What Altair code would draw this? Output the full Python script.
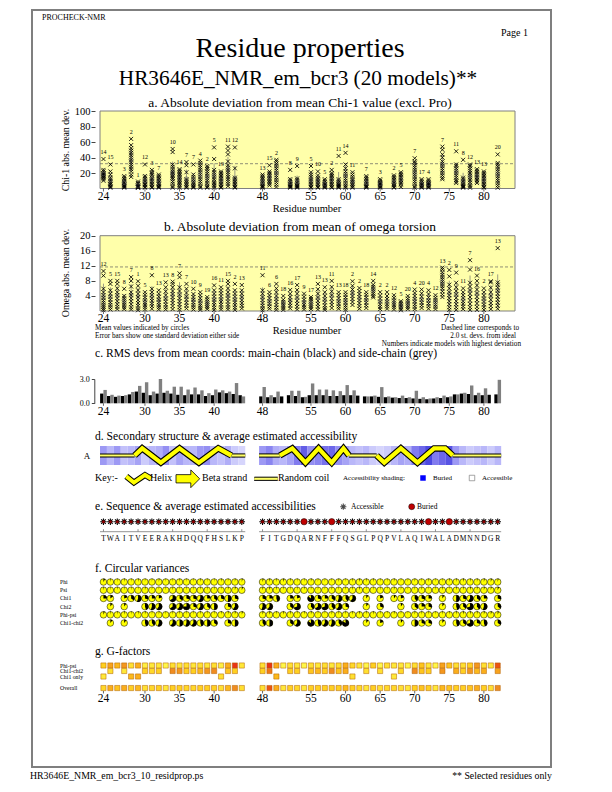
import altair as alt
import pandas as pd

SERIF = "Liberation Serif, Times New Roman, serif"
W, H = 596, 776


def X(x):
    return x - 8


def Y(y):
    return y - 8


# ------------------------------------------------------------------ data
RES_SEG1 = list(range(24, 45))
RES_SEG2 = list(range(48, 83))
RESIDUES = RES_SEG1 + RES_SEG2
SEQUENCE = "TWAITVEERAKHDQQFHSLKP" + "FITGDQARNFFFQSGLPQPVLAQIWALADMNNDGR"
SECONDARY = "CCCCC" + "H" * 14 + "CC" + "CCC" + "H" * 10 + "CCCC" + "H" * 11 + "CCCCCCC"
TICK_RES = [24, 30, 35, 40, 48, 55, 60, 65, 70, 75, 80]
SEQ_TICK_RES = [24, 29, 34, 39, 44, 48, 53, 58, 63, 68, 73, 78]

# a. |chi-1 - mean| for the models (degrees), and model with highest deviation
CHI1_DEV = {
    24: [38, 24, 22, 20, 19, 18, 17, 16, 15, 14, 12, 10],
    25: [31, 22, 18, 14, 12, 10, 8, 6, 5, 3, 2, 1],
    27: [16, 14, 12, 10, 8, 7, 5, 4, 3, 2, 1],
    28: [64, 56, 52, 49, 46, 43, 40, 37, 34, 31, 28, 25, 22, 18, 15],
    29: [9, 7, 6, 4, 3, 2, 2, 1, 1],
    30: [31, 16, 14, 12, 10, 8, 6, 5, 4, 2, 1],
    31: [24, 21, 19, 17, 14, 12, 10, 8, 6, 4, 2, 1],
    32: [18, 16, 14, 12, 10, 8, 6, 5, 3, 2, 1],
    34: [51, 47, 31, 28, 25, 22, 20, 18, 16, 14, 12, 9, 6, 3, 1],
    35: [25, 23, 21, 19, 17, 15, 13, 11, 9, 7, 5, 3, 1],
    36: [34, 30, 21, 12, 10, 8, 6, 4, 2, 1],
    37: [31, 18, 15, 12, 9, 7, 5, 3, 2, 1],
    38: [36, 33, 30, 27, 24, 21, 18, 15, 12, 9, 6, 3, 1],
    39: [29, 27, 25, 22, 19, 16, 13, 10, 7, 4, 2, 1],
    40: [53, 38, 24, 21, 18, 15, 12, 9, 7, 5, 3, 1],
    41: [22, 20, 18, 16, 14, 12, 10, 8, 6, 4, 2, 1],
    42: [54, 49, 44, 35, 30, 27, 24, 21, 18, 15, 12, 9, 6, 3],
    43: [53, 26, 14, 12, 10, 8, 6, 4, 2, 1],
    48: [18, 16, 14, 12, 10, 8, 6, 4, 3, 2, 1],
    49: [30, 22, 20, 18, 16, 14, 12, 10, 8, 6, 4],
    50: [37, 35, 32, 29, 26, 23, 20, 17, 14, 11, 8, 5, 2],
    52: [24, 12, 10, 8, 6, 5, 4, 3, 2, 1],
    53: [29, 13, 11, 9, 7, 5, 4, 3, 2, 1],
    55: [29, 21, 18, 15, 12, 10, 8, 6, 4, 2, 1],
    56: [22, 17, 14, 12, 10, 8, 6, 4, 2, 1],
    57: [12, 10, 8, 6, 5, 4, 3, 2, 1],
    58: [24, 20, 18, 16, 14, 12, 10, 8, 6, 4, 2, 1],
    59: [42, 12, 10, 8, 6, 5, 4, 3, 2, 1],
    60: [46, 31, 26, 22, 19, 16, 13, 10, 7, 4, 2, 1],
    61: [21, 18, 15, 12, 10, 8, 6, 4, 2, 1],
    63: [16, 14, 12, 10, 8, 6, 4, 3, 2, 1],
    65: [12, 10, 8, 7, 6, 5, 4, 3, 2, 1],
    67: [17, 15, 13, 11, 9, 7, 5, 4, 2, 1],
    68: [21, 19, 17, 15, 13, 11, 9, 7, 5, 2],
    70: [39, 35, 33, 30, 27, 24, 21, 18, 15, 12, 9, 6, 3, 1],
    71: [12, 10, 8, 6, 5, 4, 3, 2, 1],
    72: [12, 10, 8, 7, 6, 5, 4, 3, 2, 1],
    74: [54, 50, 44, 40, 35, 32, 29, 26, 23, 20, 17, 14, 12],
    76: [48, 31, 29, 26, 23, 20, 17, 14, 11, 9, 7],
    77: [37, 14, 12, 10, 8, 6, 4, 3, 2, 1],
    78: [31, 29, 26, 23, 20, 17, 14, 11, 8, 5, 3, 1],
    79: [25, 23, 21, 19, 17, 15, 13, 11, 9, 7],
    80: [22, 20, 18, 16, 14, 12, 10, 8, 6, 4, 2, 1],
    82: [44, 33, 31, 28, 25, 22, 19, 16, 13, 10, 7, 4, 1],
}
CHI1_TOP_MODEL = {24: 14, 25: 15, 27: 3, 28: 2, 29: 1, 30: 12, 31: 3, 32: 7, 34: 10, 35: 14,
                  36: 7, 37: 7, 38: 4, 39: 2, 40: 5, 41: 19, 42: 11, 43: 12, 48: 13, 49: 15,
                  50: 2, 52: 8, 53: 9, 55: 5, 56: 10, 57: 5, 58: 2, 59: 11, 60: 14, 61: 11,
                  63: 7, 65: 3, 67: 2, 68: 5, 70: 7, 71: 17, 72: 4, 74: 7, 76: 11, 77: 8,
                  78: 12, 79: 13, 80: 13, 82: 20}
CHI1_LIMIT = 32

# b. |omega - mean| for the models (degrees)
OMEGA_DEV = {
    24: [10.6, 9.4, 5.9, 5, 4.2, 3.5, 2.8, 2.2, 1.6, 1.1, 0.6, 0.2],
    25: [8, 7.2, 5.5, 4.6, 3.8, 3, 2.3, 1.6, 1, 0.4],
    26: [8, 7.2, 6, 5, 4.2, 3.4, 2.6, 1.8, 1.1, 0.5],
    27: [5.9, 4, 3.4, 2.8, 2.2, 1.6, 1, 0.5],
    28: [9, 8, 6.5, 5, 4.2, 3.4, 2.6, 1.8, 1, 0.4],
    29: [7.9, 6.7, 5.5, 4.6, 3.7, 2.9, 2.1, 1.4, 0.7, 0.2],
    30: [5, 4.3, 3.6, 2.9, 2.2, 1.6, 1, 0.4],
    31: [9.5, 5.9, 5, 4.2, 3.4, 2.7, 2, 1.3, 0.6],
    32: [5.5, 4.6, 3.8, 3, 2.3, 1.6, 1, 0.4],
    33: [7.6, 6.3, 5.2, 4.2, 3.3, 2.5, 1.7, 1, 0.4],
    34: [7.8, 7.2, 6.3, 5.3, 4.5, 3.7, 2.9, 2.1, 1.3, 0.5],
    35: [10, 9, 6.3, 5.3, 4.3, 3.4, 2.6, 1.8, 1, 0.3],
    36: [7.2, 5.9, 4.8, 3.8, 3, 2.2, 1.4, 0.7],
    37: [5.9, 4.5, 3.7, 3, 2.3, 1.6, 1, 0.4],
    38: [5, 4.2, 3.4, 2.7, 2, 1.4, 0.8, 0.3],
    39: [3.7, 3.1, 2.5, 2, 1.5, 1, 0.5],
    40: [6.8, 5.5, 4.6, 3.8, 3, 2.3, 1.6, 0.9, 0.3],
    41: [6.3, 5.5, 4.7, 3.9, 3.1, 2.4, 1.7, 1, 0.4],
    42: [8, 7.2, 6, 5, 4.1, 3.3, 2.5, 1.7, 1, 0.4],
    43: [7.2, 5.5, 4.6, 3.8, 3, 2.3, 1.6, 0.9, 0.3],
    44: [6.9, 5.5, 4.6, 3.7, 2.9, 2.1, 1.4, 0.7],
    48: [9.5, 5.5, 4.6, 3.7, 2.9, 2.1, 1.4, 0.7, 0.2],
    49: [5, 4.2, 3.4, 2.6, 1.9, 1.2, 0.6],
    50: [7.2, 6, 5, 4, 3.2, 2.4, 1.6, 0.9, 0.3],
    51: [4, 3, 2.4, 1.8, 1.3, 0.8, 0.3],
    52: [5.6, 4.6, 3.7, 2.9, 2.1, 1.4, 0.7],
    53: [6.9, 5.6, 4.6, 3.6, 2.7, 1.9, 1.1, 0.4],
    54: [4.6, 3.8, 3, 2.3, 1.6, 1, 0.4],
    55: [3.7, 3.2, 2.6, 2, 1.5, 1, 0.5],
    56: [7.2, 5.8, 4.6, 3.6, 2.7, 1.9, 1.1, 0.4],
    57: [6.3, 5, 4, 3.1, 2.3, 1.5, 0.8, 0.3],
    58: [8, 6.4, 5.2, 4.2, 3.3, 2.4, 1.6, 0.8],
    59: [5, 4.2, 3.4, 2.6, 1.9, 1.2, 0.6],
    60: [5, 4.3, 3.6, 2.9, 2.2, 1.5, 0.9, 0.3],
    61: [7.9, 6.7, 5.7, 4.8, 4, 3.2, 2.4, 1.6],
    62: [6.1, 5.3, 4.5, 3.7, 2.9, 2.1, 1.3, 0.6],
    63: [5, 4.3, 3.6, 2.9, 2.2, 1.5, 0.8],
    64: [8, 7, 6.4, 5.8, 5.2, 4.6, 4, 3.6],
    65: [5, 4.1, 3.3, 2.5, 1.8, 1.1, 0.5],
    66: [5, 4, 3.2, 2.5, 1.8, 1.2, 0.6],
    67: [4.2, 3.5, 2.8, 2.2, 1.6, 1, 0.4],
    68: [2.6, 2.2, 1.8, 1.4, 1, 0.6, 0.2],
    69: [4, 3.3, 2.7, 2.1, 1.5, 1, 0.5],
    70: [5.7, 4.8, 4, 3.2, 2.5, 1.8, 1.1, 0.5],
    71: [5.7, 4.7, 3.8, 3, 2.2, 1.5, 0.8],
    72: [5.5, 4.5, 3.6, 2.8, 2, 1.3, 0.6],
    73: [4.2, 3.5, 2.9, 2.3, 1.7, 1.1, 0.5],
    74: [11.5, 11, 10.3, 9.6, 9, 8.4, 7.8, 7.2, 6.6, 6, 5.2, 4.4, 3.7],
    75: [10.9, 9.2, 7, 6, 5, 4.2, 3.4, 2.6, 1.8, 1, 0.3],
    76: [10.2, 7.5, 6.3, 5.3, 4.4, 3.5, 2.6, 1.8, 1, 0.3],
    77: [6, 5, 4.2, 3.4, 2.6, 1.9, 1.2, 0.5],
    78: [13.5, 11, 7.5, 6.5, 5.5, 4.6, 3.7, 2.8, 1.9, 1, 0.3],
    79: [9.4, 8, 6.8, 5.7, 4.7, 3.8, 2.9, 2, 1.1, 0.3],
    80: [6, 5, 4.1, 3.3, 2.5, 1.7, 1, 0.3],
    81: [7.9, 7.6, 6.2, 5, 4, 3, 2.1, 1.3, 0.5],
    82: [16.7, 7.6, 7, 6.2, 5.4, 4.6, 3.8, 3, 2.2, 1.4, 0.6],
}
OMEGA_TOP_MODEL = {24: 12, 25: 5, 26: 15, 27: 8, 28: 7, 29: 1, 30: 5, 31: 8, 32: 13, 33: 13,
                   34: 8, 35: 7, 36: 7, 37: 10, 38: 9, 39: 19, 40: 16, 41: 11, 42: 15, 43: 2,
                   44: 13, 48: 11, 49: 6, 50: 6, 51: 18, 52: 16, 53: 17, 54: 9, 55: 17, 56: 13,
                   57: 13, 58: 11, 59: 13, 60: 18, 61: 2, 62: 2, 63: 18, 64: 14, 65: 2, 66: 2,
                   67: 12, 68: 5, 69: 20, 70: 4, 71: 20, 72: 4, 73: 12, 74: 13, 75: 2, 76: 9,
                   77: 11, 78: 7, 79: 16, 80: 2, 81: 17, 82: 13}
OMEGA_LIMIT = 11.7

# c. RMS deviations (main chain / side chain), one value per residue
RMS_MAIN = [1.2, 0.9, 0.8, 0.9, 1.1, 1.45, 1.3, 1.0, 1.2, 1.3, 1.2, 1.05, 1.0, 1.1, 1.1, 0.9, 1.0, 1.35, 1.25, 1.15, 1.0,
            0.85, 0.75, 0.75, 0.85, 1.0, 0.9, 0.75, 1.0, 1.0, 1.0,
            0.9, 0.9, 1.0, 1.0, 0.95, 0.85, 0.85, 0.8, 0.75, 0.7,
            0.65, 0.65, 0.6, 0.55, 0.5, 0.6, 0.65, 0.75, 1.1, 1.2,
            1.15, 1.0, 1.0, 1.05, 1.1]
RMS_SIDE = [1.65, 1.05, 0.95, 1.0, 1.4, 2.15, 2.6, 1.45, 3.0, 1.55, 2.05, 2.05, 1.7, 1.95, 1.6, 1.25, 1.7, 1.6, 1.45, 2.5, 0.85,
            2.0, 1.0, 1.45, None, 1.55, 1.55, 0.8, 2.45, 1.7, 1.7,
            1.6, 1.5, 2.25, 1.6, None, 0.85, 0.95, 2.0, 0.85, 0.75,
            0.95, 0.75, 1.55, 0.75, 0.6, 0.75, 0.95, 0.85, 1.1, 1.3,
            2.2, 1.3, 1.85, None, 2.9]

# d. average estimated burial (0 = accessible, 1 = buried)
BURIAL = [0.45, 0.3, 0.45, 0.25, 0.3, 0.4, 0.2, 0.3, 0.35, 0.5, 0.25, 0.4, 0.3, 0.3, 0.45, 0.5, 0.3, 0.25, 0.35, 0.2, 0.15,
          0.45, 0.55, 0.35, 0.3, 0.4, 0.6, 0.75, 0.5, 0.55, 0.65,
          0.7, 0.5, 0.4, 0.3, 0.25, 0.3, 0.2, 0.15, 0.2, 0.3,
          0.4, 0.35, 0.6, 0.7, 0.85, 0.6, 0.7, 0.8, 0.45, 0.3,
          0.2, 0.25, 0.3, 0.2, 0.3]
# helix ribbon vertices (residue number, up/down)
HELIX_RES = {"h1": [28.5, 29.6, 32.3, 35.0, 37.8, 40.6, 42.5],
             "h2": [50.5, 52.3, 54.2, 56.1, 58.0, 59.7, 60.5],
             "h3": [64.5, 65.6, 68.0, 70.4, 72.8, 74.4, 75.5]}
HELIX_LEV = {"h1": [0, 0.75, -0.75, 0.75, -0.75, 0.75, 0],
             "h2": [0, 0.75, -0.75, 0.75, -0.75, 0.75, 0],
             "h3": [0, -0.75, 0.75, -0.75, 0.75, 0.75, 0]}

# e. buried residues
BURIED = [54, 58, 72, 75]

# f. circular variances
PHI_CV = [0.08, 0.03, 0.02, 0.03, 0.02, 0.03, 0.02, 0.02, 0.03, 0.02, 0.02, 0.03, 0.02, 0.02, 0.03, 0.02, 0.02, 0.03, 0.02, 0.03, 0.04,
          0.05, 0.04, 0.03, 0.05, 0.03, 0.02, 0.02, 0.03, 0.02, 0.02,
          0.02, 0.03, 0.02, 0.03, 0.04, 0.03, 0.03, 0.02, 0.02, 0.03,
          0.02, 0.02, 0.03, 0.02, 0.03, 0.02, 0.02, 0.03, 0.03, 0.04,
          0.03, 0.03, 0.04, 0.05, 0.04]
PSI_CV = [0.03, 0.02, 0.03, 0.02, 0.02, 0.02, 0.03, 0.02, 0.02, 0.02, 0.03, 0.02, 0.02, 0.02, 0.03, 0.02, 0.02, 0.02, 0.03, 0.04, 0.06,
          0.04, 0.05, 0.03, 0.03, 0.02, 0.02, 0.03, 0.02, 0.02, 0.02,
          0.03, 0.02, 0.03, 0.03, 0.04, 0.02, 0.02, 0.02, 0.02, 0.03,
          0.02, 0.02, 0.02, 0.03, 0.02, 0.02, 0.03, 0.02, 0.03, 0.03,
          0.04, 0.03, 0.04, 0.04, 0.06]
PHIPSI_CV = [0.06, 0.03, 0.03, 0.03, 0.02, 0.03, 0.03, 0.02, 0.03, 0.02, 0.03, 0.03, 0.02, 0.02, 0.03, 0.02, 0.02, 0.03, 0.03, 0.04, 0.05,
             0.05, 0.05, 0.03, 0.04, 0.03, 0.02, 0.03, 0.03, 0.02, 0.02,
             0.03, 0.03, 0.03, 0.03, 0.04, 0.03, 0.03, 0.02, 0.02, 0.03,
             0.02, 0.02, 0.03, 0.03, 0.03, 0.02, 0.03, 0.03, 0.03, 0.04,
             0.04, 0.03, 0.04, 0.05, 0.05]
CHI1_CV = {24: 0.25, 25: 0.15, 27: 0.2, 28: 0.35, 29: 0.55, 30: 0.3, 31: 0.25, 32: 0.2, 34: 0.65,
           35: 0.35, 36: 0.3, 37: 0.3, 38: 0.6, 39: 0.25, 40: 0.35, 41: 0.3, 42: 0.5, 43: 0.3,
           48: 0.3, 49: 0.25, 50: 0.45, 52: 0.25, 53: 0.2, 55: 0.85, 56: 0.3, 57: 0.25, 58: 0.35,
           59: 0.55, 60: 0.4, 61: 0.6, 63: 0.1, 65: 0.2, 67: 0.1, 68: 0.2, 70: 0.4, 71: 0.3,
           72: 0.25, 74: 0.1, 76: 0.5, 77: 0.3, 78: 0.6, 79: 0.35, 80: 0.25, 82: 0.3}
CHI2_CV = {25: 0.1, 27: 0.1, 30: 0.45, 31: 0.55, 32: 0.6, 34: 0.65, 35: 0.6, 36: 0.75, 37: 0.3,
           38: 0.6, 39: 0.35, 40: 0.5, 42: 0.3, 43: 0.6, 48: 0.55, 49: 0.6, 52: 0.35, 53: 0.7,
           55: 0.4, 56: 0.65, 57: 0.7, 58: 0.4, 59: 0.6, 60: 0.3, 63: 0.1, 65: 0.3, 68: 0.1,
           70: 0.35, 71: 0.25, 72: 0.3, 74: 0.1, 76: 0.45, 77: 0.35, 78: 0.7, 79: 0.4, 80: 0.55,
           82: 0.35}
CHI12_CV = {25: 0.1, 27: 0.1, 30: 0.45, 31: 0.4, 32: 0.55, 34: 0.6, 35: 0.5, 36: 0.55, 37: 0.6,
            38: 0.45, 39: 0.5, 40: 0.35, 42: 0.3, 43: 0.5, 48: 0.4, 49: 0.5, 52: 0.35, 53: 0.6,
            55: 0.85, 56: 0.45, 57: 0.6, 58: 0.55, 59: 0.4, 60: 0.85, 63: 0.1, 65: 0.2, 68: 0.1,
            70: 0.5, 71: 0.3, 72: 0.3, 74: 0.1, 76: 0.45, 77: 0.35, 78: 0.7, 79: 0.3, 80: 0.45,
            82: 0.35}

# g. G-factors (0 = favourable, 1 = unusual)
GF_PHIPSI = [0.3, 0.5, 0.4, 0.55, 0.2, 0.45, 0.1, 0.15, 0.15, 0.05, 0.2, 0.15, 0.2, 0.15, 0.2, 0.15, 0.2, 0.1, 0.45, 0.95, 0.15,
             0.2, 0.95, 0.45, 0.05, 0.2, 0.15, 0.05, 0.2, 0.15, 0.2,
             0.15, 0.2, 0.45, 0.25, 0.15, 0.05, 0.3, 0.05, 0.2, 0.15,
             0.15, 0.05, 0.2, 0.35, 0.15, 0.05, 0.5, 0.35, 0.2, 0.2,
             0.3, 0.55, 0.2, 0.15, 0.85]
GF_CHI12 = {25: 0.2, 27: 0.15, 30: 0.3, 31: 0.25, 32: 0.3, 34: 0.6, 35: 0.55, 36: 0.3, 37: 0.3,
            38: 0.4, 39: 0.55, 40: 0.6, 42: 0.35, 43: 0.3, 48: 0.3, 49: 0.7, 52: 0.3, 53: 0.3,
            55: 0.35, 56: 0.4, 57: 0.3, 58: 0.6, 59: 0.35, 60: 0.45, 63: 0.2, 65: 0.2, 68: 0.25,
            70: 0.6, 71: 0.35, 72: 0.3, 74: 0.55, 76: 0.45, 77: 0.3, 78: 0.55, 79: 0.4, 80: 0.45,
            82: 0.5}
GF_CHI1 = {24: 0.15, 28: 0.4, 29: 0.45, 41: 0.2, 50: 0.4, 61: 0.2, 67: 0.15}
GF_OVERALL = [0.25, 0.45, 0.35, 0.45, 0.3, 0.4, 0.2, 0.25, 0.3, 0.15, 0.3, 0.3, 0.25, 0.25, 0.3, 0.3, 0.3, 0.2, 0.4, 0.6, 0.2,
              0.2, 0.85, 0.45, 0.15, 0.3, 0.25, 0.15, 0.3, 0.3, 0.3,
              0.3, 0.3, 0.4, 0.3, 0.25, 0.15, 0.3, 0.2, 0.25, 0.25,
              0.2, 0.15, 0.3, 0.35, 0.3, 0.15, 0.4, 0.35, 0.3, 0.3,
              0.35, 0.45, 0.3, 0.2, 0.6]

# ------------------------------------------------------------------ layout helpers
POS = {r: i for i, r in enumerate(RES_SEG1)}
POS.update({r: len(RES_SEG1) + 2 + i for i, r in enumerate(RES_SEG2)})


def slot(r):
    return r - 24 if r < 46 else r - 25


XD = [-0.5, 59.5]
XS = alt.Scale(domain=XD, range=[X(95), X(520)])
YELLOW = "#ffffaa"
XPATH = "M-1,-1L1,1M-1,1L1,-1"
STAR = "M0,-1L0,1M-1,0L1,0M-0.7,-0.7L0.7,0.7M-0.7,0.7L0.7,-0.7"
ARROW = "M-1,-0.35L0.25,-0.35L0.25,-0.75L1,0L0.25,0.75L0.25,0.35L-1,0.35Z"


def xq(field):
    return alt.X(f"{field}:Q", scale=XS, axis=None)


def yq(field, scale, axis=None):
    return alt.Y(f"{field}:Q", scale=scale, axis=axis)


def one():
    return pd.DataFrame({"k": [0]})


def txt(x, y, s, size, align="left", angle=0, color="black", baseline="middle"):
    return alt.Chart(pd.DataFrame({"t": [s]})).mark_text(
        align=align, baseline=baseline, angle=angle, fontSize=size, font=SERIF, color=color
    ).encode(x=alt.value(X(x)), y=alt.value(Y(y)), text="t:N")


TICKS = pd.DataFrame({"pos": [POS[r] for r in TICK_RES], "lab": [str(r) for r in TICK_RES]})


def x_ticks(y_axis, y_lab, size=11.5, tick=3):
    t = alt.Chart(TICKS).mark_rule(color="#444444", strokeWidth=0.8).encode(
        x=xq("pos"), y=alt.value(Y(y_axis)), y2=alt.value(Y(y_axis + tick)))
    lab = alt.Chart(TICKS).mark_text(fontSize=size, font=SERIF, baseline="middle", color="black").encode(
        x=xq("pos"), y=alt.value(Y(y_lab)), text="lab:N")
    return [t, lab]


def y_axis(values, offset_x):
    return alt.Axis(values=values, orient="left", offset=-X(offset_x), title=None,
                    labelFont=SERIF, labelFontSize=10.5, labelColor="black", tickSize=4,
                    tickColor="#444444", labelPadding=1, domain=False, grid=False)


def scatter_panel(vals, top_model, ydom, yscale, axis, limit):
    long = pd.DataFrame([{"pos": POS[r], "v": v} for r, vs in vals.items() for v in vs])
    tops = pd.DataFrame([{"pos": POS[r], "top": max(vs), "model": str(top_model[r])} for r, vs in vals.items()])
    frame = pd.DataFrame({"x0": [XD[0]], "x1": [XD[1]], "y0": [ydom[0]], "y1": [ydom[1]]})
    bg = alt.Chart(frame).mark_rect(fill=YELLOW, stroke="#808080", strokeWidth=1).encode(
        x=xq("x0"), x2="x1:Q", y=yq("y0", yscale, axis), y2="y1:Q")
    dash = alt.Chart(pd.DataFrame({"x0": [XD[0]], "x1": [XD[1]], "t": [limit]})).mark_rule(
        color="#606060", strokeDash=[3, 2], strokeWidth=0.7).encode(x=xq("x0"), x2="x1:Q", y=yq("t", yscale))
    stats = alt.Chart(long).transform_aggregate(
        m="mean(v)", s="stdev(v)", groupby=["pos"]).transform_calculate(
        lo="max(datum.m - datum.s, 0)", hi="datum.m + datum.s")
    err = stats.mark_rule(color="#707070", strokeWidth=0.7).encode(x=xq("pos"), y=yq("lo", yscale), y2="hi:Q")
    pts = alt.Chart(long).mark_point(shape=XPATH, filled=False, color="black", size=16,
                                     strokeWidth=0.85, opacity=1).encode(x=xq("pos"), y=yq("v", yscale))
    mean = stats.mark_point(shape="circle", filled=False, color="#606060", size=14, strokeWidth=0.8).encode(
        x=xq("pos"), y=yq("m", yscale))
    lab = alt.Chart(tops).mark_text(dy=-7, fontSize=6, font=SERIF, color="black").encode(
        x=xq("pos"), y=yq("top", yscale), text="model:N")
    return [bg, dash, err, pts, mean, lab]


layers = []

# ------------------------------------------------------------------ page frame and headings
layers.append(alt.Chart(one()).mark_rect(fillOpacity=0, stroke="#7f7f7f", strokeWidth=2).encode(
    x=alt.value(X(32)), x2=alt.value(X(551)), y=alt.value(Y(10)), y2=alt.value(Y(767))))
layers.append(txt(42, 18, "PROCHECK-NMR", 8))
layers.append(txt(528, 33, "Page  1", 10, align="right"))
layers.append(txt(300, 49, "Residue properties", 28, align="center"))
layers.append(txt(298, 79, "HR3646E_NMR_em_bcr3 (20 models)**", 21.3, align="center"))

# ------------------------------------------------------------------ a. chi-1
YA = alt.Scale(domain=[0, 100], range=[Y(188.5), Y(111)])
layers.append(txt(300, 103, "a. Absolute deviation from mean Chi-1 value (excl. Pro)", 13.5, align="center"))
layers += scatter_panel(CHI1_DEV, CHI1_TOP_MODEL, [0, 100], YA, y_axis([20, 40, 60, 80, 100], 95), CHI1_LIMIT)
layers.append(txt(66, 150, "Chi-1 abs. mean dev.", 9.8, align="center", angle=270))
layers += x_ticks(188.5, 197)
layers.append(txt(307, 208.5, "Residue number", 10.5, align="center"))

# ------------------------------------------------------------------ b. omega
YB = alt.Scale(domain=[0, 20], range=[Y(311), Y(235.7)])
layers.append(txt(300, 227, "b. Absolute deviation from mean of omega torsion", 13.5, align="center"))
layers += scatter_panel(OMEGA_DEV, OMEGA_TOP_MODEL, [0, 20], YB, y_axis([4, 8, 12, 16, 20], 95), OMEGA_LIMIT)
layers.append(txt(66, 273, "Omega abs. mean dev.", 9.8, align="center", angle=270))
layers += x_ticks(311, 319)
layers.append(txt(307, 331, "Residue number", 10.5, align="center"))
layers.append(txt(95, 328, "Mean values indicated by circles", 7.2))
layers.append(txt(95, 336, "Error bars show one standard deviation either side", 7.2))
layers.append(txt(519, 328, "Dashed line corresponds to", 7.2, align="right"))
layers.append(txt(516, 336, "2.0 st. devs. from ideal", 7.2, align="right"))
layers.append(txt(521, 344, "Numbers indicate models with highest deviation", 7.2, align="right"))

# ------------------------------------------------------------------ c. RMS devs
YC = alt.Scale(domain=[0, 3], range=[Y(403.3), Y(379)])
AX_C = alt.Axis(values=[0, 3], format=".1f", orient="left", offset=-X(94.3), title=None,
                labelFont=SERIF, labelFontSize=8, labelColor="black", tickSize=3,
                tickColor="#444444", domainColor="#444444", labelPadding=2, grid=False)
layers.append(txt(95, 354, "c. RMS devs from mean coords: main-chain (black) and side-chain (grey)", 11.6))
rms = pd.DataFrame({"pos": [POS[r] for r in RESIDUES], "mc": RMS_MAIN, "sc": RMS_SIDE})
rms_base = alt.Chart(rms).transform_calculate(pm="datum.pos - 0.24", ps="datum.pos + 0.24", z="0")
layers.append(rms_base.mark_bar(size=3.4, color="black", orient="vertical").encode(
    x=alt.X("pm:Q", scale=XS, axis=None), y=yq("mc", YC, AX_C), y2="z:Q"))
layers.append(rms_base.transform_filter("isValid(datum.sc)").mark_bar(size=3.4, color="#808080", orient="vertical").encode(
    x=alt.X("ps:Q", scale=XS, axis=None), y=yq("sc", YC), y2="z:Q"))
layers += x_ticks(403.3, 411.5, tick=2.5)

# ------------------------------------------------------------------ d. secondary structure
YD = alt.Scale(domain=[-1, 1], range=[Y(465), Y(446)])
layers.append(txt(95, 437, "d. Secondary structure & average estimated accessibility", 11.6))
layers.append(txt(87, 455.5, "A", 9, align="center"))
acc = pd.DataFrame({"pos": [POS[r] for r in RESIDUES], "b": BURIAL})
layers.append(alt.Chart(acc).transform_calculate(
    x0="datum.pos - 0.5", x1="datum.pos + 0.5", lo="-1", hi="1").mark_rect().encode(
    x=xq("x0"), x2="x1:Q", y=yq("lo", YD), y2="hi:Q",
    color=alt.Color("b:Q", scale=alt.Scale(domain=[0, 1], range=["#f4f4ff", "#1a2ad8"]), legend=None)))
# coil runs
coil = []
for seg in (RES_SEG1, RES_SEG2):
    run = []
    for r in seg:
        if SECONDARY[RESIDUES.index(r)] == "C":
            run.append(r)
        elif run:
            coil.append((run[0], run[-1]))
            run = []
    if run:
        coil.append((run[0], run[-1]))
coil_df = pd.DataFrame({"x0": [POS[a] - 0.5 for a, b in coil], "x1": [POS[b] + 0.5 for a, b in coil]})
coil_df["lev"] = 0
for w, c in ((4.2, "black"), (2.2, "#ffff66")):
    layers.append(alt.Chart(coil_df).mark_rule(strokeWidth=w, color=c).encode(
        x=xq("x0"), x2="x1:Q", y=yq("lev", YD)))
hel = pd.DataFrame([{"h": h, "i": i, "p": slot(r), "lev": HELIX_LEV[h][i]}
                    for h, rs in HELIX_RES.items() for i, r in enumerate(rs)])
for w, c in ((6.5, "black"), (4.3, "#ffff00")):
    layers.append(alt.Chart(hel).mark_line(strokeWidth=w, color=c, strokeJoin="miter").encode(
        x=xq("p"), y=yq("lev", YD), detail="h:N", order="i:Q"))
# key row
KEY_LEV = -2.45
layers.append(txt(95, 478, "Key:-", 10))
key_hel = pd.DataFrame({"p": [3.3, 4.4, 6.0, 6.9], "lev": [-2.2, -2.85, -2.05, -2.45], "i": [0, 1, 2, 3]})
for w, c in ((6, "black"), (4, "#ffff00")):
    layers.append(alt.Chart(key_hel).mark_line(strokeWidth=w, color=c, strokeJoin="miter").encode(
        x=xq("p"), y=yq("lev", YD), order="i:Q"))
layers.append(txt(150, 478, "Helix", 10))
layers.append(alt.Chart(pd.DataFrame({"p": [12.2], "lev": [KEY_LEV]})).mark_point(
    shape=ARROW, size=560, filled=True, fill="#ffff00", stroke="black", strokeWidth=0.8, opacity=1).encode(
    x=xq("p"), y=yq("lev", YD)))
layers.append(txt(202, 478, "Beta strand", 10))
key_coil = pd.DataFrame({"x0": [21.8], "x1": [25.2], "lev": [KEY_LEV]})
for w, c in ((4.2, "black"), (2.2, "#ffff66")):
    layers.append(alt.Chart(key_coil).mark_rule(strokeWidth=w, color=c).encode(
        x=xq("x0"), x2="x1:Q", y=yq("lev", YD)))
layers.append(txt(278, 478, "Random coil", 10))
layers.append(txt(343, 478, "Accessibility shading:", 7))
layers.append(alt.Chart(one()).mark_square(size=30, color="#0000ff", opacity=1).encode(
    x=alt.value(X(423)), y=alt.value(Y(478))))
layers.append(txt(433, 478, "Buried", 7))
layers.append(alt.Chart(one()).mark_square(size=30, fill="white", stroke="#808080", strokeWidth=0.7, opacity=1).encode(
    x=alt.value(X(472)), y=alt.value(Y(478))))
layers.append(txt(482, 478, "Accessible", 7))

# ------------------------------------------------------------------ e. sequence
layers.append(txt(95, 507, "e. Sequence & average estimated accessibilities", 11.6))
layers.append(alt.Chart(one()).mark_point(shape=STAR, size=38, filled=False, color="black", strokeWidth=1.1).encode(
    x=alt.value(X(343.3)), y=alt.value(Y(506.7))))
layers.append(txt(351, 506.7, "Accessible", 7.5))
layers.append(alt.Chart(one()).mark_circle(size=36, color="#c00000", stroke="black", strokeWidth=0.5, opacity=1).encode(
    x=alt.value(X(411.7)), y=alt.value(Y(506.7))))
layers.append(txt(417, 506.7, "Buried", 7.5))
seq = pd.DataFrame({"pos": [POS[r] for r in RESIDUES], "aa": list(SEQUENCE),
                    "buried": [r in BURIED for r in RESIDUES]})
layers.append(alt.Chart(seq).transform_filter("!datum.buried").mark_point(
    shape=STAR, size=42, filled=False, color="black", strokeWidth=1.1, opacity=1).encode(
    x=xq("pos"), y=alt.value(Y(521.7))))
layers.append(alt.Chart(seq).transform_filter("!datum.buried").mark_circle(
    size=9, color="#8b0000", opacity=1).encode(x=xq("pos"), y=alt.value(Y(521.7))))
layers.append(alt.Chart(seq).transform_filter("datum.buried").mark_circle(
    size=40, color="#c00000", stroke="black", strokeWidth=0.5, opacity=1).encode(
    x=xq("pos"), y=alt.value(Y(521.7))))
segs = pd.DataFrame({"x0": [POS[RES_SEG1[0]] - 0.5, POS[RES_SEG2[0]] - 0.5],
                     "x1": [POS[RES_SEG1[-1]] + 0.5, POS[RES_SEG2[-1]] + 0.5]})
layers.append(alt.Chart(segs).mark_rule(color="#777777", strokeWidth=0.8).encode(
    x=xq("x0"), x2="x1:Q", y=alt.value(Y(531.7))))
seq_ticks = pd.DataFrame({"pos": [POS[r] for r in SEQ_TICK_RES]})
layers.append(alt.Chart(seq_ticks).mark_rule(color="#777777", strokeWidth=0.8).encode(
    x=xq("pos"), y=alt.value(Y(529.2)), y2=alt.value(Y(531.7))))
layers.append(alt.Chart(seq).mark_text(fontSize=7.5, font=SERIF, color="black", baseline="middle").encode(
    x=xq("pos"), y=alt.value(Y(539)), text="aa:N"))

# ------------------------------------------------------------------ f. circular variances
F_ROWS = ["Phi", "Psi", "Chi1", "Chi2", "Phi-psi", "Chi1-chi2"]
YF = alt.Scale(domain=[0, 5], range=[Y(582), Y(623)])
f_sources = {"Phi": dict(zip(RESIDUES, PHI_CV)), "Psi": dict(zip(RESIDUES, PSI_CV)), "Chi1": CHI1_CV,
             "Chi2": CHI2_CV, "Phi-psi": dict(zip(RESIDUES, PHIPSI_CV)), "Chi1-chi2": CHI12_CV}
fdf = pd.DataFrame([{"row": k, "slot": F_ROWS.index(k), "pos": POS[r], "v": v}
                    for k, d in f_sources.items() for r, v in d.items()])
layers.append(txt(95, 568.5, "f. Circular variances", 11.6))
layers.append(alt.Chart(pd.DataFrame({"row": F_ROWS, "slot": list(range(len(F_ROWS)))})).mark_text(
    align="left", fontSize=5.8, font=SERIF, color="black", baseline="middle").encode(
    x=alt.value(X(60)), y=yq("slot", YF), text="row:N"))
layers.append(alt.Chart(fdf).mark_point(shape="circle", size=44, filled=True, fill="#ffff00",
                                        stroke="black", strokeWidth=0.5, opacity=1).encode(
    x=xq("pos"), y=yq("slot", YF)))
layers.append(alt.Chart(fdf).transform_calculate(t0="0").mark_arc(radius=3.5, color="black").encode(
    x=xq("pos"), y=yq("slot", YF),
    theta=alt.Theta("t0:Q", stack=None, scale=alt.Scale(domain=[0, 1], range=[0, 6.2832])),
    theta2="v:Q"))

# ------------------------------------------------------------------ g. G-factors
G_ROWS = {"Phi-psi": 0, "Chi1-chi2": 1, "Chi1 only": 2, "Overall": 4.1}
YG = alt.Scale(domain=[0, 1], range=[Y(665.5), Y(671)])
g_sources = {"Phi-psi": dict(zip(RESIDUES, GF_PHIPSI)), "Chi1-chi2": GF_CHI12,
             "Chi1 only": GF_CHI1, "Overall": dict(zip(RESIDUES, GF_OVERALL))}
gdf = pd.DataFrame([{"row": k, "slot": G_ROWS[k], "pos": POS[r], "g": v}
                    for k, d in g_sources.items() for r, v in d.items()])
layers.append(txt(95, 652, "g. G-factors", 11.6))
layers.append(alt.Chart(pd.DataFrame({"row": list(G_ROWS), "slot": list(G_ROWS.values())})).mark_text(
    align="left", fontSize=5.8, font=SERIF, color="black", baseline="middle").encode(
    x=alt.value(X(60)), y=yq("slot", YG), text="row:N"))
layers.append(alt.Chart(gdf).mark_square(size=27, stroke="#b06000", strokeWidth=0.5, opacity=1).encode(
    x=xq("pos"), y=yq("slot", YG),
    color=alt.Color("g:Q", scale=alt.Scale(domain=[0, 0.3, 0.6, 1],
                                           range=["#ffff50", "#ffd020", "#f08c20", "#e81818"]), legend=None)))
layers += x_ticks(691, 699, tick=2.5)

# ------------------------------------------------------------------ footer
layers.append(txt(30, 776, "HR3646E_NMR_em_bcr3_10_residprop.ps", 9.8))
layers.append(txt(552, 776, "** Selected residues only", 9.8, align="right"))

chart = alt.layer(*layers).resolve_scale(y="independent", color="independent").properties(
    width=W, height=H, autosize=alt.AutoSizeParams(type="none"), padding=0, background="white"
).configure_view(stroke=None)

chart.save("out.html", embed_options={"renderer": "svg", "actions": False})
